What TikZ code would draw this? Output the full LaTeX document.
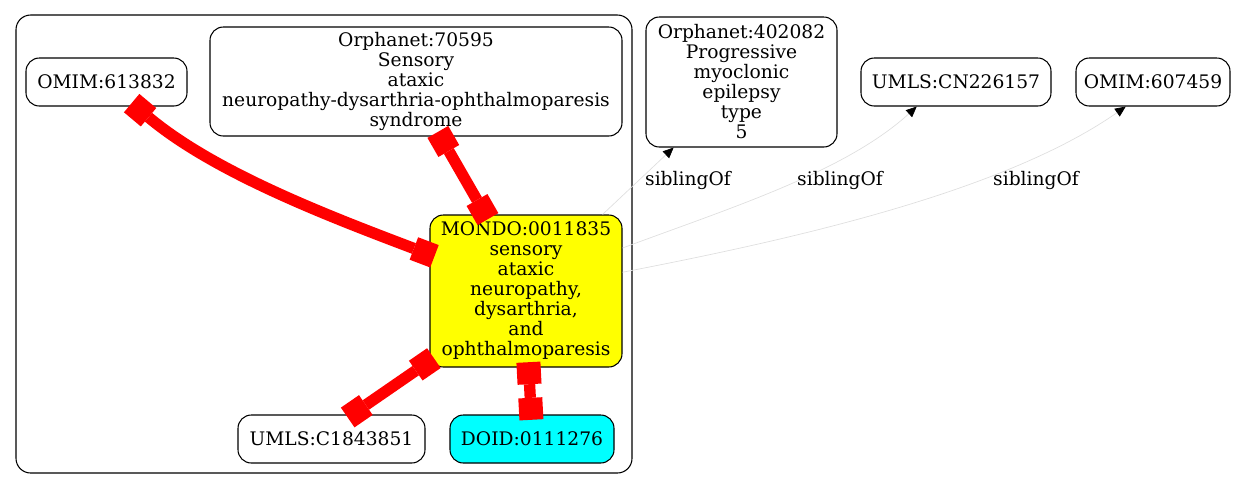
\documentclass[tikz,border=0pt]{standalone}
\usepackage{fontspec}
\setmainfont{DejaVu Serif}
\usetikzlibrary{arrows.meta}
\definecolor{sibgray}{RGB}{222,222,222}
\definecolor{ylw}{RGB}{255,255,0}
\definecolor{cyn}{RGB}{0,255,255}
\begin{document}
\begin{tikzpicture}[x=0.75pt,y=-0.75pt,
  box/.style={draw=black, line width=0.8pt, rounded corners=10pt, inner sep=0pt, align=center, font=\fontsize{14}{15}\selectfont},
  cluster/.style={draw=black, line width=0.8pt, rounded corners=11pt, inner sep=0pt},
  redlink/.style={draw=red, line width=8.5pt, shorten <=-4pt, shorten >=-4pt, {Square[length=16.5pt,width=18pt,line width=0pt]}-{Square[length=16.5pt,width=18pt,line width=0pt]}},
  sibling/.style={draw=sibgray, line width=0.5pt, -{Triangle[length=8pt,width=7pt,color=black]}},
  lab/.style={font=\fontsize{14}{15}\selectfont, inner sep=0pt}
]
\useasboundingbox (0,0) rectangle (1241,490);

\node[cluster, minimum width=462pt, minimum height=343.5pt] (clu) at (324,244) {};

\node[box, minimum width=120.75pt, minimum height=36pt] (omimA) at (106.5,82) {OMIM:613832};
\node[box, minimum width=309pt, minimum height=81.75pt] (orphA) at (416,81.5) {Orphanet:70595\\Sensory\\ataxic\\neuropathy-dysarthria-ophthalmoparesis\\syndrome};
\node[box, fill=ylw, minimum width=144pt, minimum height=114pt] (mondo) at (526,291) {MONDO:0011835\\sensory\\ataxic\\neuropathy,\\dysarthria,\\and\\ophthalmoparesis};
\node[box, minimum width=140.25pt, minimum height=36pt] (umlsA) at (331.5,439) {UMLS:C1843851};
\node[box, fill=cyn, minimum width=123pt, minimum height=36pt] (doid) at (532,439) {DOID:0111276};

\node[box, minimum width=143.25pt, minimum height=97.5pt] (orphB) at (741.5,82) {Orphanet:402082\\Progressive\\myoclonic\\epilepsy\\type\\5};
\node[box, minimum width=142.5pt, minimum height=36pt] (umlsB) at (956,82) {UMLS:CN226157};
\node[box, minimum width=115.5pt, minimum height=36pt] (omimB) at (1153,82) {OMIM:607459};

\draw[redlink] (omimA) .. controls (215,173) and (331,217) .. (mondo);
\draw[redlink] (orphA.-66) -- (mondo.118);
\draw[redlink] (mondo.216) -- (umlsA.50);
\draw[redlink] (mondo.-88) -- (doid.92);

\draw[sibling] (mondo.45) -- (orphB.224);
\draw[sibling] (mondo.24) .. controls (730,208) and (845,172) .. (umlsB.212);
\draw[sibling] (mondo.11) .. controls (789,240) and (1002,193) .. (omimB.222);

\node[lab] (l1) at (688,180) {siblingOf};
\node[lab] (l2) at (840,180) {siblingOf};
\node[lab] (l3) at (1036,180) {siblingOf};
\end{tikzpicture}
\end{document}
